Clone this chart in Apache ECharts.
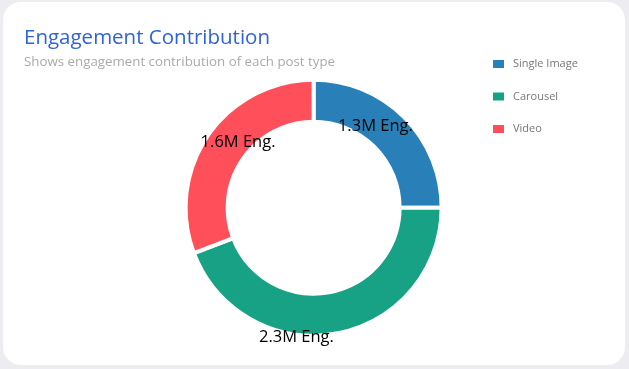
<!DOCTYPE html>
<html>
<head>
<meta charset="utf-8">
<script src="https://cdn.jsdelivr.net/npm/echarts@6/dist/echarts.min.js"></script>
<style>
  html, body { margin:0; padding:0; width:629px; height:369px; background:#ececf1; overflow:hidden; }
  #card { position:absolute; left:3px; top:2px; width:622px; height:363px; background:#fff; border-radius:18px; }
  #chart { position:absolute; left:0; top:0; width:629px; height:369px; }
</style>
</head>
<body>
<div id="card"></div>
<div id="chart"></div>
<script>
const categories = ['Single Image', 'Carousel', 'Video'];
const values = [1.3, 2.3, 1.6];
const colors = ['#2980b9', '#17a185', '#ff4f5a'];
const labelOffsets = [[-16, -4], [-37, 21], [15, -3]];
const FONT = '"Open Sans", Lato, sans-serif';

const chart = echarts.init(document.getElementById('chart'));
chart.setOption({
  backgroundColor: 'transparent',
  animation: false,
  title: {
    text: 'Engagement Contribution',
    subtext: 'Shows engagement contribution of each post type',
    left: 19, top: 23,
    itemGap: 7,
    textStyle: { fontFamily: FONT, fontSize: 20.5, fontWeight: 'normal', color: '#2f63d9' },
    subtextStyle: { fontFamily: FONT, fontSize: 13.3, color: '#aaaaaa' }
  },
  legend: {
    orient: 'vertical',
    left: 491, top: 58, padding: 0,
    itemWidth: 13, itemHeight: 10, itemGap: 20.5,
    icon: 'rect',
    data: categories,
    textStyle: { fontFamily: FONT, fontSize: 11, color: '#777777', padding: [0, 0, 0, 3] }
  },
  series: [{
    type: 'pie',
    center: [313.6, 207.7],
    radius: [86, 128],
    startAngle: 90,
    clockwise: true,
    itemStyle: { borderColor: '#ffffff', borderWidth: 4 },
    emphasis: { disabled: true },
    labelLine: { show: false },
    data: categories.map((c, i) => ({
      name: c,
      value: values[i],
      itemStyle: { color: colors[i] },
      label: {
        show: true,
        position: 'inside',
        offset: labelOffsets[i],
        formatter: values[i].toFixed(1) + 'M Eng.',
        fontFamily: FONT, fontSize: 16.5, color: '#000000'
      }
    }))
  }]
});
</script>
</body>
</html>
